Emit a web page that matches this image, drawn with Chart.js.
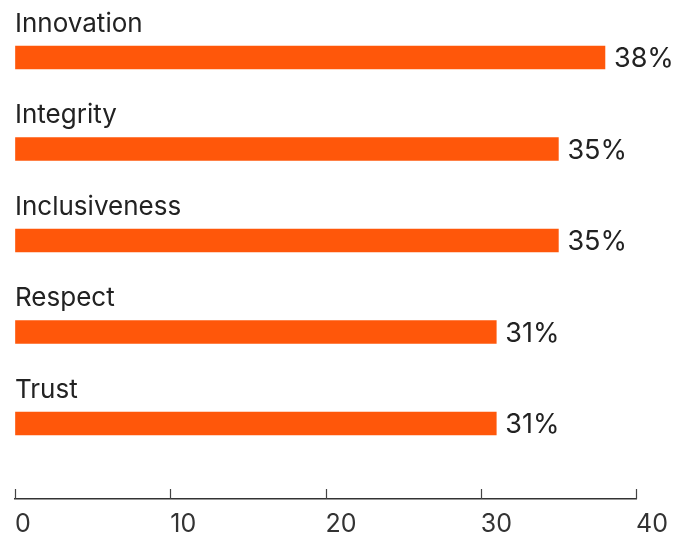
<!DOCTYPE html>
<html>
<head>
<meta charset="utf-8">
<script src="https://cdn.jsdelivr.net/npm/chart.js@4.4.1/dist/chart.umd.min.js"></script>
<style>
  html, body { margin: 0; padding: 0; background: #fff; }
  #wrap { width: 691px; height: 534px; }
</style>
</head>
<body>
<div id="wrap"><canvas id="valuesChart"></canvas></div>
<script>
// 가치 항목별 응답 비율
const categories = ['Innovation', 'Integrity', 'Inclusiveness', 'Respect', 'Trust'];
const shares = [38, 35, 35, 31, 31];
const xTicks = [0, 10, 20, 30, 40];

const barColor = '#ff570a';
const textColor = '#222222';
const fontFamily = 'Inter, "Liberation Sans", Arial, sans-serif';

// 막대 위 항목명 + 막대 오른쪽 퍼센트
const barLabels = {
  id: 'barLabels',
  afterDatasetsDraw(chart) {
    const ctx = chart.ctx;
    const meta = chart.getDatasetMeta(0);
    ctx.save();
    ctx.fillStyle = textColor;
    ctx.textBaseline = 'alphabetic';
    ctx.textAlign = 'left';
    meta.data.forEach((bar, i) => {
      const top = bar.y - bar.height / 2;
      ctx.font = '400 26px ' + fontFamily;
      ctx.fillText(categories[i], chart.chartArea.left, top - 14);
      ctx.font = '400 27px ' + fontFamily;
      ctx.fillText(shares[i] + '%', bar.x + 9, bar.y + 10);
    });
    ctx.restore();
  }
};

// x축 눈금선 (축선 위쪽으로 짧게)
const upTicks = {
  id: 'upTicks',
  afterDraw(chart) {
    const ctx = chart.ctx;
    const x = chart.scales.x;
    const yb = chart.chartArea.bottom;
    ctx.save();
    ctx.strokeStyle = '#444';
    ctx.lineWidth = 1.2;
    xTicks.forEach(t => {
      const px = Math.round(x.getPixelForValue(t)) + 0.5;
      ctx.beginPath();
      ctx.moveTo(px, yb);
      ctx.lineTo(px, yb - 10);
      ctx.stroke();
    });
    ctx.restore();
  }
};

const ctxEl = document.getElementById('valuesChart');
const valuesChart = new Chart(ctxEl, {
  type: 'bar',
  data: {
    datasets: [{
      data: shares.map((v, i) => ({ x: v, y: i })),
      backgroundColor: barColor,
      borderWidth: 0,
      barThickness: 23
    }]
  },
  options: {
    indexAxis: 'y',
    responsive: true,
    maintainAspectRatio: false,
    animation: false,
    layout: { padding: { left: 15, right: 55, top: 0, bottom: 0 } },
    scales: {
      y: {
        type: 'linear',
        display: false,
        offset: false,
        reverse: true,
        min: -0.6284,
        max: 4.8252
      },
      x: {
        min: 0,
        max: 40,
        afterFit(scale) { scale.height = 35; },
        afterBuildTicks(scale) { scale.ticks = xTicks.map(v => ({ value: v })); },
        grid: { drawOnChartArea: false, drawTicks: false },
        border: { display: true, color: '#333', width: 1.5 },
        ticks: {
          align: 'start',
          padding: 10,
          color: '#333',
          font: { family: fontFamily, size: 25 }
        }
      }
    },
    plugins: {
      legend: { display: false },
      tooltip: { enabled: false }
    }
  },
  plugins: [barLabels, upTicks]
});
</script>
</body>
</html>
